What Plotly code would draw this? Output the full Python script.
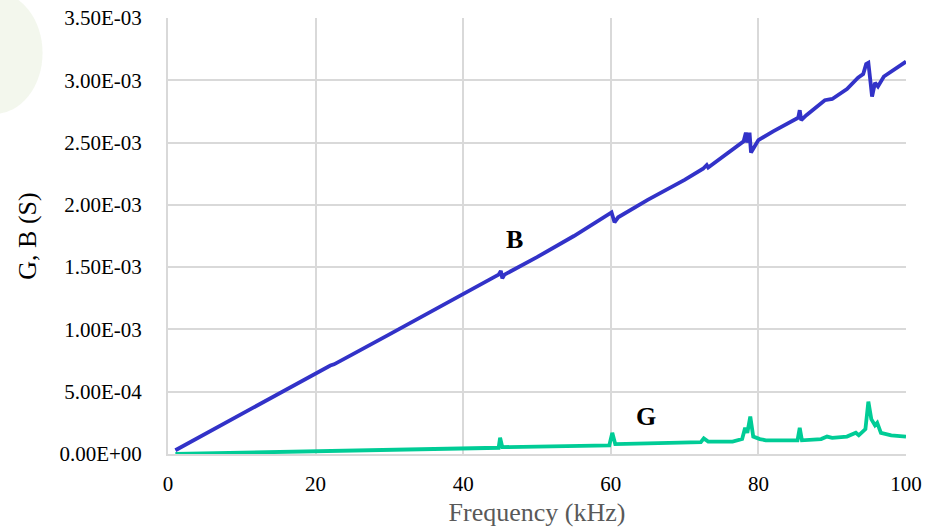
import plotly.graph_objects as go

# Frequency sweep (kHz) and measured susceptance B (S)
freq_b = [1, 5, 10, 15, 20, 21.5, 22, 22.5, 23, 25, 30, 35, 40, 44.8, 45.1, 45.3, 45.6,
          50, 55, 59.5, 60.1, 60.5, 61, 65, 70, 72.5, 73, 73.2, 75, 78, 78.3, 78.5, 78.8,
          79.0, 79.5, 80, 82, 85.4, 85.6, 85.8, 86.5, 89, 90, 92, 93.5, 94.2, 94.6, 94.9,
          95.2, 95.4, 95.8, 96.2, 97, 98.5, 100]
b_values = [3.0e-05, 1.6e-04, 3.2e-04, 4.85e-04, 6.5e-04, 6.95e-04, 7.1e-04, 7.2e-04, 7.35e-04,
            8.0e-04, 9.6e-04, 1.12e-03, 1.28e-03, 1.44e-03, 1.47e-03, 1.41e-03, 1.44e-03,
            1.58e-03, 1.75e-03, 1.91e-03, 1.94e-03, 1.86e-03, 1.90e-03, 2.04e-03, 2.20e-03,
            2.29e-03, 2.32e-03, 2.30e-03, 2.38e-03, 2.51e-03, 2.58e-03, 2.50e-03, 2.58e-03,
            2.42e-03, 2.47e-03, 2.52e-03, 2.59e-03, 2.70e-03, 2.76e-03, 2.68e-03, 2.72e-03,
            2.84e-03, 2.85e-03, 2.93e-03, 3.02e-03, 3.05e-03, 3.13e-03, 3.14e-03, 2.98e-03,
            2.87e-03, 2.98e-03, 2.95e-03, 3.03e-03, 3.09e-03, 3.15e-03]

# Measured conductance G (S)
freq_g = [1, 10, 20, 22, 23, 30, 40, 44.8, 45.0, 45.3, 50, 55, 59.8, 60.2, 60.6, 65, 70,
          72.2, 72.6, 73.2, 76.5, 77.8, 78.2, 78.5, 78.9, 79.3, 80.2, 81, 85.3, 85.6, 85.9,
          88.5, 89.3, 90, 92, 93.2, 93.6, 94.5, 94.9, 95.3, 95.8, 96.1, 96.6, 98, 100]
g_values = [0.0, 1.0e-05, 2.0e-05, 2.5e-05, 2.0e-05, 3.0e-05, 4.0e-05, 5.0e-05, 1.3e-04,
            5.5e-05, 6.0e-05, 6.5e-05, 7.0e-05, 1.7e-04, 8.0e-05, 8.5e-05, 9.0e-05, 9.5e-05,
            1.25e-04, 1.0e-04, 1.0e-04, 1.2e-04, 2.1e-04, 1.7e-04, 3.0e-04, 1.4e-04, 1.2e-04,
            1.1e-04, 1.1e-04, 2.1e-04, 1.1e-04, 1.2e-04, 1.4e-04, 1.3e-04, 1.4e-04, 1.7e-04,
            1.5e-04, 2.0e-04, 4.2e-04, 2.8e-04, 2.3e-04, 2.5e-04, 1.7e-04, 1.5e-04, 1.4e-04]

y_ticks = [0, 5e-4, 1e-3, 1.5e-3, 2e-3, 2.5e-3, 3e-3, 3.5e-3]
y_tick_text = ["0.00E+00", "5.00E-04", "1.00E-03", "1.50E-03", "2.00E-03",
               "2.50E-03", "3.00E-03", "3.50E-03"]
x_ticks = [0, 20, 40, 60, 80, 100]

serif = "Liberation Serif"
grid = "#D9D9D9"

fig = go.Figure()
fig.add_trace(go.Scatter(x=freq_b, y=b_values, mode="lines", name="B",
                         line=dict(color="#3232C8", width=3.8)))
fig.add_trace(go.Scatter(x=freq_g, y=g_values, mode="lines", name="G",
                         line=dict(color="#00CC96", width=3.8)))

fig.add_annotation(x=47.0, y=1.72e-3, text="<b>B</b>", showarrow=False,
                   font=dict(family=serif, size=26, color="black"))
fig.add_annotation(x=64.8, y=3.0e-4, text="<b>G</b>", showarrow=False,
                   font=dict(family=serif, size=26, color="black"))

# faint background emblem in the top-left corner
fig.add_shape(type="circle", xref="paper", yref="paper",
              x0=-0.30, x1=-0.17, y0=0.78, y1=1.06, layer="below",
              fillcolor="rgba(215,228,195,0.30)", line=dict(width=0))

fig.update_layout(
    width=931, height=529,
    margin=dict(l=168, r=25, t=18, b=75),
    paper_bgcolor="white", plot_bgcolor="white",
    showlegend=False,
    font=dict(family=serif, size=21, color="black"),
    xaxis=dict(range=[0, 100], tickvals=x_ticks, showgrid=True, gridcolor=grid,
               gridwidth=2, zeroline=False, showline=True, linecolor=grid, linewidth=2,
               ticks="", ticklen=0, ticklabelstandoff=10, automargin=False,
               tickfont=dict(family=serif, size=21, color="black"),
               title=dict(text="Frequency (kHz)", font=dict(family=serif, size=26,
                                                          color="#595959"), standoff=8)),
    yaxis=dict(range=[0, 3.5e-3], tickvals=y_ticks, ticktext=y_tick_text, showgrid=True,
               gridcolor=grid, gridwidth=2, zeroline=False, showline=True, linecolor=grid,
               linewidth=2, ticks="", ticklen=0, ticklabelstandoff=20, automargin=False,
               tickfont=dict(family=serif, size=21, color="black"),
               title=dict(text="G, B (S)", font=dict(family=serif, size=26, color="black"),
                          standoff=15)),
)

fig.write_html("out.html")
